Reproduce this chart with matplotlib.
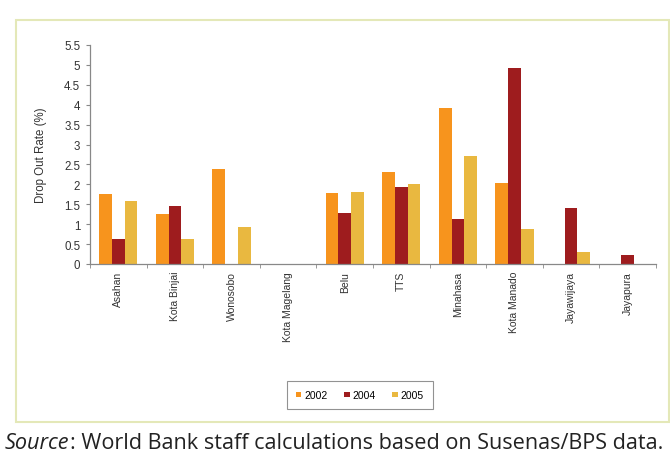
import matplotlib
matplotlib.use("Agg")
import matplotlib.pyplot as plt
from matplotlib.patches import Rectangle
import numpy as np

categories = ["Asahan", "Kota Binjai", "Wonosobo", "Kota Magelang", "Belu", "TTS",
              "Minahasa", "Kota Manado", "Jayawijaya", "Jayapura"]
v2002 = [1.76, 1.25, 2.38, 0, 1.79, 2.32, 3.92, 2.04, 0, 0]
v2004 = [0.62, 1.45, 0, 0, 1.27, 1.94, 1.12, 4.93, 1.40, 0.23]
v2005 = [1.58, 0.64, 0.93, 0, 1.82, 2.00, 2.70, 0.89, 0.31, 0]
years = ["2002", "2004", "2005"]
yticks = [0, 0.5, 1, 1.5, 2, 2.5, 3, 3.5, 4, 4.5, 5, 5.5]
ytick_labels = ["0", "0.5", "1", "1.5", "2", "2.5", "3", "3.5", "4", "4.5", "5", "5.5"]

colors = ["#F7941D", "#9E1C1E", "#E9B840"]

fig = plt.figure(figsize=(6.7, 4.56), dpi=100)
fig.patch.set_facecolor("white")

# outer frame
frame = Rectangle((16 / 670, 1 - 423 / 456), (669 - 16) / 670, (423 - 21) / 456,
                  transform=fig.transFigure, fill=False, edgecolor="#E4E8B8", lw=1.5)
fig.add_artist(frame)

ax = fig.add_axes([90 / 670, 1 - 265 / 456, (656 - 90) / 670, (265 - 46) / 456])
x = np.arange(len(categories))
w = 0.225
for i, (vals, c, lab) in enumerate(zip([v2002, v2004, v2005], colors, years)):
    ax.bar(x + (i - 1) * w, vals, width=w, color=c, label=lab)

ax.set_xlim(-0.5, len(categories) - 0.5)
ax.set_ylim(0, 5.5)
ax.set_yticks(yticks)
ax.set_yticklabels(ytick_labels)
ax.set_xticks(x)
ax.set_xticklabels(categories, rotation=90)
ax.set_xticks(np.arange(-0.5, len(categories) + 0.5, 1), minor=True)
ax.tick_params(axis="x", which="major", length=0, pad=5)
ax.tick_params(axis="x", which="minor", length=3, color="#888888")
ax.tick_params(axis="y", length=3, color="#888888", pad=4)
for lbl in ax.get_xticklabels():
    lbl.set_fontfamily("Liberation Sans")
    lbl.set_fontsize(7.5)
    lbl.set_color("#333333")
for lbl in ax.get_yticklabels():
    lbl.set_fontfamily("Liberation Sans")
    lbl.set_fontsize(8.3)
    lbl.set_color("#333333")
for s in ["top", "right"]:
    ax.spines[s].set_visible(False)
for s in ["left", "bottom"]:
    ax.spines[s].set_color("#888888")
    ax.spines[s].set_linewidth(0.9)
ax.set_ylabel("Drop Out Rate (%)", fontfamily="Liberation Sans", fontsize=8.3,
              color="#333333", labelpad=12)

leg = fig.legend(loc="center", bbox_to_anchor=(360 / 670, 1 - 396 / 456), ncol=3,
                 frameon=True, fancybox=False, edgecolor="#777777",
                 prop={"family": "Liberation Sans", "size": 7.5},
                 handlelength=0.5, handleheight=0.35, handletextpad=0.3,
                 columnspacing=1.6, borderpad=0.9)
leg.get_frame().set_linewidth(0.8)

fig.canvas.draw()
renderer = fig.canvas.get_renderer()
ty = 1 - 444 / 456
t1 = fig.text(5 / 670, ty, "Source", fontstyle="italic", fontfamily="Open Sans",
              fontsize=15.6, va="center", ha="left", color="#222222")
bb = t1.get_window_extent(renderer=renderer)
x2 = fig.transFigure.inverted().transform((bb.x1, 0))[0]
fig.text(x2, ty, ": World Bank staff calculations based on Susenas/BPS data.",
         fontfamily="Open Sans", fontsize=15.6, va="center", ha="left", color="#222222")

fig.savefig("out.png", dpi=100)
